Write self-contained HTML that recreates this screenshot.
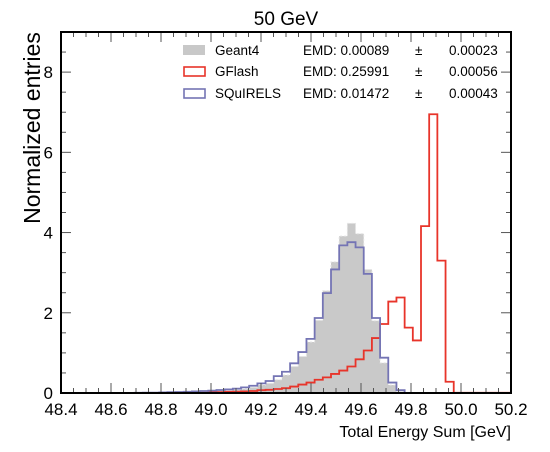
<!DOCTYPE html>
<html><head><meta charset="utf-8"><style>
body{margin:0;background:#fff;}
svg{display:block;font-family:"Liberation Sans",sans-serif;}
</style></head><body>
<svg id="chart" width="550" height="452">
<text x="286" y="25" font-size="19" text-anchor="middle">50 GeV</text>
<text transform="translate(40,128) rotate(-90)" font-size="23" text-anchor="middle">Normalized entries</text>
<text x="511" y="437" font-size="16" text-anchor="end">Total Energy Sum [GeV]</text>
<g id="plot"></g>
<g id="legend" font-size="13.5">
 <g>
  <rect x="183" y="45" width="22" height="10" fill="#c8c8c8"/>
  <text x="215" y="55">Geant4</text><text x="303" y="55">EMD: 0.00089</text><text x="415" y="55">±</text><text x="449" y="55">0.00023</text>
 </g>
 <g>
  <rect x="184" y="67" width="21" height="9" fill="none" stroke="#e8342a" stroke-width="1.6"/>
  <text x="215" y="76">GFlash</text><text x="303" y="76">EMD: 0.25991</text><text x="415" y="76">±</text><text x="449" y="76">0.00056</text>
 </g>
 <g>
  <rect x="184" y="89" width="21" height="9" fill="none" stroke="#7474b4" stroke-width="1.6"/>
  <text x="215" y="98">SQuIRELS</text><text x="303" y="98">EMD: 0.01472</text><text x="415" y="98">±</text><text x="449" y="98">0.00043</text>
 </g>
</g>
</svg>
<script>
const binLo = 48.4, binHi = 50.2, nBins = 55;
const geant4 = [0,0,0,0,0,0,0,0,0.003,0.005,0.008,0.01,0.012,0.015,0.02,0.022,0.025,0.03,0.04,0.05,0.06,0.08,0.1,0.14,0.2,0.24,0.33,0.45,0.66,0.91,1.27,1.81,2.55,3.27,3.91,4.23,3.97,3.08,1.8,0.75,0.2,0.03,0,0,0,0,0,0,0,0,0,0,0,0,0];
const squirels = [0,0,0,0,0,0,0,0,0.003,0.005,0.01,0.01,0.015,0.02,0.025,0.03,0.04,0.05,0.06,0.075,0.09,0.11,0.14,0.18,0.24,0.3,0.42,0.53,0.74,1.02,1.35,1.87,2.49,3.08,3.68,3.76,3.63,2.97,1.87,0.88,0.26,0.07,0,0,0,0,0,0,0,0,0,0,0,0,0];
const gflash = [0,0,0,0,0,0,0,0,0,0,0,0,0,0,0.003,0.005,0.01,0.01,0.015,0.02,0.03,0.035,0.04,0.05,0.07,0.08,0.1,0.12,0.16,0.21,0.26,0.33,0.39,0.475,0.56,0.66,0.84,1.06,1.37,1.72,2.28,2.38,1.63,1.31,4.16,6.95,3.3,0.28,0.005,0.005,0.005,0.005,0.005,0.005,0.005];
const xTicks = ["48.4","48.6","48.8","49.0","49.2","49.4","49.6","49.8","50.0","50.2"];
const yTicks = ["0","2","4","6","8"];

const L=61,R=511,T=32,B=393, yMax=9.0;
const X=v=>L+(v-48.4)/(50.2-48.4)*(R-L);
const Y=v=>B-v/yMax*(B-T);
const NS="http://www.w3.org/2000/svg";
const plot=document.getElementById('plot');
function mk(tag,attrs){const e=document.createElementNS(NS,tag);for(const k in attrs)e.setAttribute(k,attrs[k]);return e;}
const w=(binHi-binLo)/nBins;
function stepPath(vals){
  let d='M'+X(binLo)+','+Y(0);
  vals.forEach((v,i)=>{d+=' L'+X(binLo+i*w)+','+Y(v)+' L'+X(binLo+(i+1)*w)+','+Y(v);});
  return d+' L'+X(binHi)+','+Y(0);
}
const g4=mk('path',{d:stepPath(geant4)+' Z',fill:'#c9c9c9',stroke:'#e4e4e4','stroke-width':1,'stroke-dasharray':'2,2'});


plot.appendChild(g4);
const gf=mk('path',{d:stepPath(gflash),fill:'none',stroke:'#e8342a','stroke-width':1.8});


plot.appendChild(gf);
const sq=mk('path',{d:stepPath(squirels),fill:'none',stroke:'#7474b4','stroke-width':1.8});


plot.appendChild(sq);
const tg=mk('g',{stroke:'#555','stroke-width':1});


plot.appendChild(tg);
for(let i=0;i<=36;i++){const v=48.4+i*0.05,x=X(v),len=(i%4===0)?10:5;
  tg.appendChild(mk('line',{x1:x,x2:x,y1:B,y2:B-len}));
  tg.appendChild(mk('line',{x1:x,x2:x,y1:T,y2:T+len}));}
for(let i=0;i<=18;i++){const y=Y(i*0.5),len=(i%4===0)?10:5;
  tg.appendChild(mk('line',{x1:L,x2:L+len,y1:y,y2:y}));
  tg.appendChild(mk('line',{x1:R,x2:R-len,y1:y,y2:y}));}
xTicks.forEach(t=>{const e=mk('text',{x:X(parseFloat(t)),y:415,'font-size':17,'text-anchor':'middle'});e.textContent=t;
  
  
  plot.appendChild(e);});
yTicks.forEach(t=>{const e=mk('text',{x:L-8,y:Y(parseFloat(t))+6,'font-size':17,'text-anchor':'end'});e.textContent=t;
  
  
  plot.appendChild(e);});
const fr=mk('rect',{x:L,y:T,width:R-L,height:B-T,fill:'none',stroke:'#000','stroke-width':2});


plot.appendChild(fr);
</script>
</body></html>
